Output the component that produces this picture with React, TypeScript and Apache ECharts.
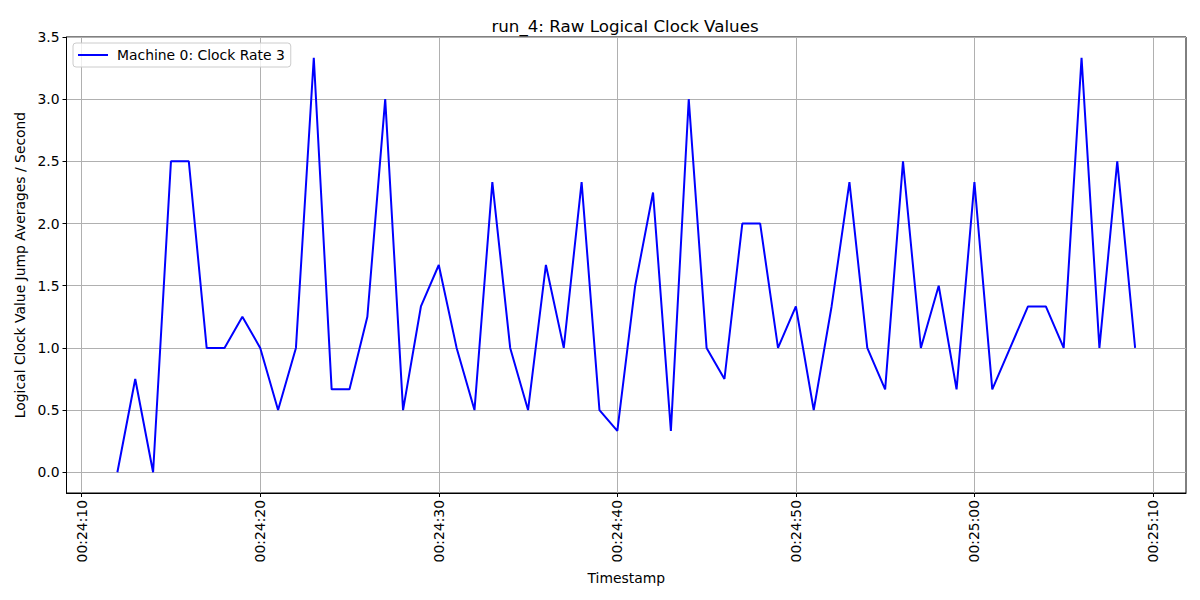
import React, { useEffect, useRef } from "react";
import * as echarts from "echarts";

// seconds after 00:24:00
const seconds = [
  12, 13, 14, 15, 16, 17, 18, 19, 20, 21, 22, 23, 24, 25, 26, 27, 28, 29, 30,
  31, 32, 33, 34, 35, 36, 37, 38, 39, 40, 41, 42, 43, 44, 45, 46, 47, 48, 49,
  50, 51, 52, 53, 54, 55, 56, 57, 58, 59, 60, 61, 62, 63, 64, 65, 66, 67, 68, 69,
];
const values = [
  0, 0.75, 0, 2.5, 2.5, 1.0, 1.0, 1.25, 1.0, 0.5, 1.0, 3.3333, 0.6667, 0.6667,
  1.25, 3.0, 0.5, 1.3333, 1.6667, 1.0, 0.5, 2.3333, 1.0, 0.5, 1.6667, 1.0,
  2.3333, 0.5, 0.3333, 1.5, 2.25, 0.3333, 3.0, 1.0, 0.75, 2.0, 2.0, 1.0, 1.3333,
  0.5, 1.3333, 2.3333, 1.0, 0.6667, 2.5, 1.0, 1.5, 0.6667, 2.3333, 0.6667, 1.0,
  1.3333, 1.3333, 1.0, 3.3333, 1.0, 2.5, 1.0,
];
const xTicks = [10, 20, 30, 40, 50, 60, 70];
const yTicks = [0, 0.5, 1.0, 1.5, 2.0, 2.5, 3.0, 3.5];
const seriesName = "Machine 0: Clock Rate 3";
const titleText = "run_4: Raw Logical Clock Values";

const fmtTime = (s: number) => {
  const total = 24 * 60 + Math.round(s);
  const m = Math.floor(total / 60);
  const sec = total % 60;
  const pad = (n: number) => String(n).padStart(2, "0");
  return `00:${pad(m)}:${pad(sec)}`;
};

const FONT = "DejaVu Sans";
const FS = 13.9;

export default function App() {
  const ref = useRef<HTMLDivElement>(null);
  useEffect(() => {
    if (!ref.current) return;
    const chart = echarts.init(ref.current, null, { renderer: "svg" });
    const xMin = 12 - 57 * 0.05;
    const xMax = 69 + 57 * 0.05;
    const yMin = -3.5 / 21;
    const yMax = 3.5;
    chart.setOption({
      animation: false,
      backgroundColor: "#ffffff",
      textStyle: { fontFamily: FONT },
      title: {
        text: titleText,
        left: 620,
        textAlign: "center",
        top: 12,
        textStyle: { fontFamily: FONT, fontSize: 16.7, fontWeight: "normal", color: "#000" },
      },
      legend: {
        show: true,
        left: 73,
        top: 43,
        orient: "vertical",
        backgroundColor: "rgba(255,255,255,0.8)",
        borderColor: "#cccccc",
        borderWidth: 1,
        borderRadius: 3,
        padding: [5, 6, 5, 5],
        itemWidth: 30,
        itemHeight: 2,
        icon: "rect",
        itemGap: 8,
        textStyle: { fontFamily: FONT, fontSize: FS, color: "#000", padding: [0, 0, 0, 4] },
        data: [{ name: seriesName, icon: "rect" }],
      },
      grid: {
        left: 66.5,
        right: 14,
        top: 37,
        bottom: 107,
        show: true,
        borderColor: "#000",
        borderWidth: 1,
        backgroundColor: "transparent",
        containLabel: false,
      },
      xAxis: {
        type: "value",
        min: xMin,
        max: xMax,
        name: "Timestamp",
        nameLocation: "middle",
        nameGap: 78,
        nameTextStyle: { fontFamily: FONT, fontSize: FS, color: "#000" },
        axisLine: { show: true, onZero: false, lineStyle: { color: "#000", width: 1 } },
        axisTick: {
          show: true,
          length: 4,
          lineStyle: { color: "#000", width: 1 },
          customValues: xTicks,
        },
        axisLabel: {
          rotate: 90,
          fontFamily: FONT,
          fontSize: FS,
          color: "#000",
          margin: 7,
          customValues: xTicks,
          formatter: (v: number) => fmtTime(v),
        },
        splitLine: { show: true, lineStyle: { color: "#b0b0b0", width: 1 } },
      },
      yAxis: {
        type: "value",
        min: yMin,
        max: yMax,
        name: "Logical Clock Value Jump Averages / Second",
        nameLocation: "middle",
        nameGap: 40,
        nameTextStyle: { fontFamily: FONT, fontSize: FS, color: "#000" },
        axisLine: { show: true, onZero: false, lineStyle: { color: "#000", width: 1 } },
        axisTick: {
          show: true,
          length: 4,
          lineStyle: { color: "#000", width: 1 },
          customValues: yTicks,
        },
        axisLabel: {
          fontFamily: FONT,
          fontSize: FS,
          color: "#000",
          margin: 7,
          customValues: yTicks,
          formatter: (v: number) => v.toFixed(1),
        },
        splitLine: { show: true, lineStyle: { color: "#b0b0b0", width: 1 } },
      },
      series: [
        {
          name: seriesName,
          type: "line",
          data: seconds.map((s, i) => [s, values[i]]),
          showSymbol: false,
          symbol: "none",
          color: "#0000ff",
          lineStyle: { color: "#0000ff", width: 2 },
        },
      ],
    });
    return () => chart.dispose();
  }, []);
  return (
    <div
      ref={ref}
      style={{ position: "fixed", left: 0, top: 0, width: 1200, height: 600, background: "#fff" }}
    />
  );
}
